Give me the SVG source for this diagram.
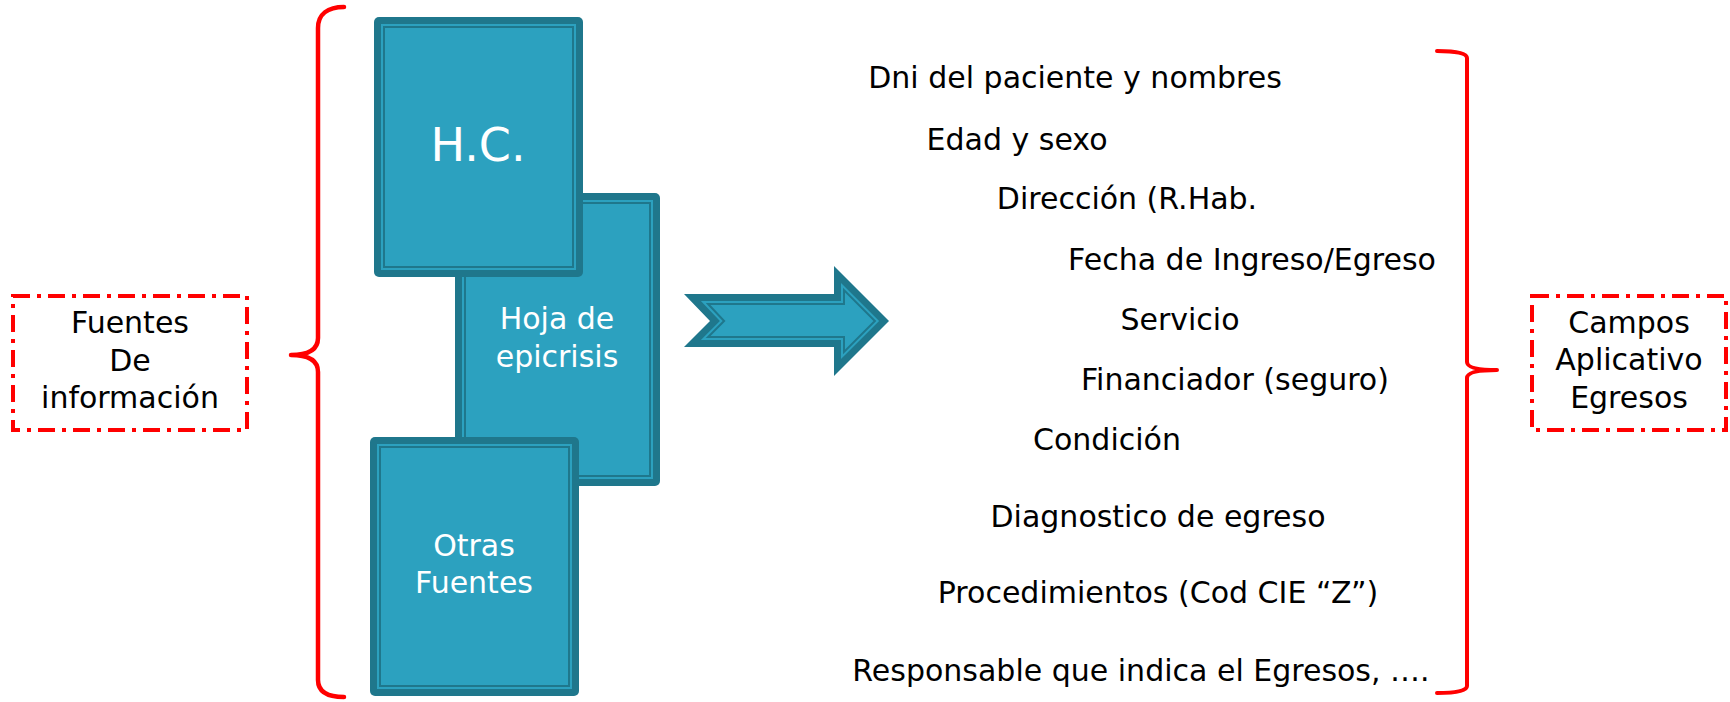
<svg xmlns="http://www.w3.org/2000/svg" width="1730" height="702" viewBox="0 0 1730 702">
<style>
.dark{fill:#1F778C}
.light{fill:#2CA1BF}
.line{fill:none;stroke:#1F778C;stroke-width:2}
.wt{font-family:"DejaVu Sans",Verdana,sans-serif;fill:#FFFFFF;text-anchor:middle}
.bt{font-family:"DejaVu Sans",Verdana,sans-serif;fill:#000000;font-size:30px;text-anchor:middle}
.dash{fill:#FFFFFF;stroke:#FF0000;stroke-width:4;stroke-dasharray:17 7 4 7}
.brace{fill:none;stroke:#FF0000;stroke-linecap:round;stroke-linejoin:round}
</style>
<rect width="1730" height="702" fill="#FFFFFF"/>

<g id="fuentes-label">
<rect class="dash" x="13" y="296" width="234" height="134"/>
<text class="bt" x="130" y="333">Fuentes</text>
<text class="bt" x="130" y="371">De</text>
<text class="bt" x="130" y="408">información</text>
</g>

<g id="hoja-epicrisis">
<rect class="dark" x="455" y="193" width="205" height="293" rx="5"/>
<rect class="light" x="462" y="200" width="191" height="279"/>
<rect class="line" x="465" y="203" width="185" height="273"/>
<text class="wt" x="557" y="329" font-size="30">Hoja de</text>
<text class="wt" x="557" y="367" font-size="30">epicrisis</text>
</g>

<g id="hc">
<rect class="dark" x="374" y="17" width="209" height="260" rx="5"/>
<rect class="light" x="381" y="24" width="195" height="246"/>
<rect class="line" x="384" y="27" width="189" height="240"/>
<text class="wt" x="478" y="161" font-size="46">H.C.</text>
</g>

<g id="otras-fuentes">
<rect class="dark" x="370" y="437" width="209" height="259" rx="5"/>
<rect class="light" x="377" y="444" width="195" height="245"/>
<rect class="line" x="380" y="447" width="189" height="239"/>
<text class="wt" x="474" y="556" font-size="30">Otras</text>
<text class="wt" x="474" y="593" font-size="30">Fuentes</text>
</g>

<g id="connectors">
<g id="arrow">
<polygon class="dark" points="684,294 710,321 684,347 834,347 834,376 889,321 834,266 834,294"/>
<polygon class="light" points="700.9,301 719.9,321 700.9,340 841,340 841,359.1 879.1,321 841,282.9 841,301"/>
<polygon class="line" points="708.1,304 724.1,321 708.1,337 844,337 844,351.9 874.9,321 844,290.1 844,304"/>
</g>
<path id="left-brace" class="brace" stroke-width="4.5" d="M344,7 C328,7 318,14 318,28 L318,338 C318,350 308,355 291,355 C308,355 318,360 318,372 L318,680 C318,692 328,697 344,697"/>
<path id="right-brace" class="brace" stroke-width="4" d="M1437,51 C1455,51 1467,53 1467,58 L1467,362 C1467,367 1475,370 1497,370 C1475,370 1467,373 1467,378 L1467,686 C1467,691 1455,693 1437,693"/>
</g>

<g id="campos-list">
<text class="bt" x="1075" y="88">Dni del paciente y nombres</text>
<text class="bt" x="1017" y="150">Edad y sexo</text>
<text class="bt" x="1127" y="209">Dirección (R.Hab.</text>
<text class="bt" x="1252" y="270">Fecha de Ingreso/Egreso</text>
<text class="bt" x="1180" y="330">Servicio</text>
<text class="bt" x="1235" y="390">Financiador (seguro)</text>
<text class="bt" x="1107" y="450">Condición</text>
<text class="bt" x="1158" y="527">Diagnostico de egreso</text>
<text class="bt" x="1158" y="603">Procedimientos (Cod CIE “Z”)</text>
<text class="bt" x="1141" y="681">Responsable que indica el Egresos, ….</text>
</g>

<g id="campos-label">
<rect class="dash" x="1532" y="296" width="194" height="134"/>
<text class="bt" x="1629" y="333">Campos</text>
<text class="bt" x="1629" y="370">Aplicativo</text>
<text class="bt" x="1629" y="408">Egresos</text>
</g>
</svg>
